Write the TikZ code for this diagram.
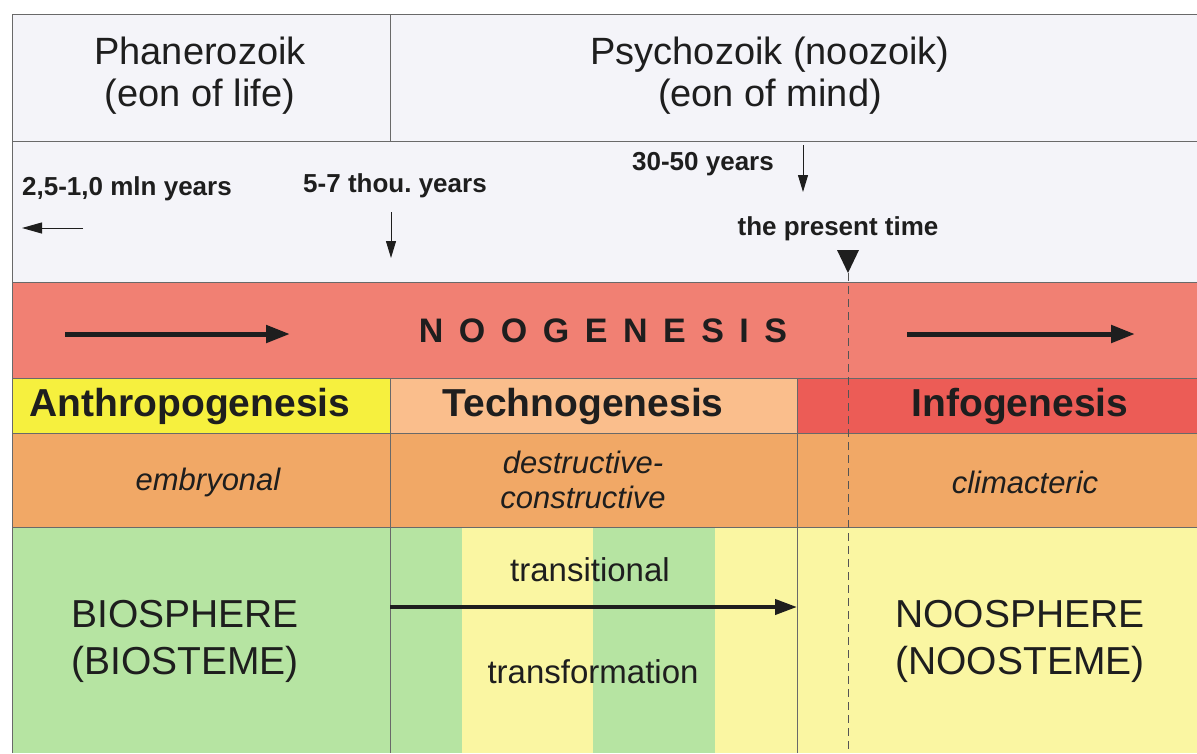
\documentclass[tikz,border=0pt]{standalone}
\usepackage{fontspec}
\setmainfont{Liberation Sans}
\usetikzlibrary{arrows.meta}
\definecolor{paper}{RGB}{244,244,249}
\definecolor{bandred}{RGB}{241,128,115}
\definecolor{anthro}{RGB}{246,240,62}
\definecolor{techno}{RGB}{250,190,140}
\definecolor{info}{RGB}{236,92,86}
\definecolor{phase}{RGB}{241,168,102}
\definecolor{leaf}{RGB}{182,228,162}
\definecolor{straw}{RGB}{250,246,162}
\definecolor{rulegray}{RGB}{105,105,105}
\definecolor{ink}{RGB}{30,30,30}
\newcommand\ltrgap{\hspace{15.5pt}}
\newcommand\fs[2]{\fontsize{#1}{#2}\selectfont}
\begin{document}
\begin{tikzpicture}[x=1pt,y=-1pt,
  rule/.style={draw=rulegray,line width=0.9pt},
  lbl/.style={inner sep=0pt,align=center,text=ink},
  eon/.style={lbl,font=\fs{38}{42}},
  span/.style={lbl,font=\fs{26}{30}\bfseries},
  stage/.style={lbl,font=\fs{39}{44}\bfseries},
  phasetxt/.style={lbl,font=\fs{31}{35}\itshape},
  sphere/.style={lbl,font=\fs{39}{47}},
  flow/.style={lbl,font=\fs{33}{38}},
  bigarrow/.style={draw=ink,line width=5pt,-{Triangle[length=24pt,width=17pt]}},
  midarrow/.style={draw=ink,line width=4pt,-{Triangle[length=22pt,width=15pt]}},
  thinarrow/.style={draw=ink,line width=1pt,-{Triangle[length=17pt,width=10pt]}}]
  \useasboundingbox (0,0) rectangle (1197,753);
  \fill[white] (0,0) rectangle (1197,753);

  \fill[paper]   (12,14)   rectangle (1197,282);
  \fill[bandred] (12,282)  rectangle (1197,378);
  \fill[anthro]  (12,378)  rectangle (390,433);
  \fill[techno]  (390,378) rectangle (797,433);
  \fill[info]    (797,378) rectangle (1197,433);
  \fill[phase]   (12,433)  rectangle (1197,527);
  \fill[leaf]    (12,527)  rectangle (462,753);
  \fill[straw]   (462,527) rectangle (593,753);
  \fill[leaf]    (593,527) rectangle (715,753);
  \fill[straw]   (715,527) rectangle (1197,753);

  \draw[rule] (12,753) -- (12,14) -- (1197,14);
  \foreach \y in {141,282,378,433,527}
    \draw[rule] (12,\y) -- (1197,\y);
  \draw[rule] (390,14)  -- (390,141);
  \draw[rule] (390,378) -- (390,753);
  \draw[rule] (797,378) -- (797,753);

  \node[eon] (phan) at (200,76) {Phanerozoik\\(eon of life)};
  \node[eon] (psych) at (770,76) {Psychozoik (noozoik)\\(eon of mind)};

  \node[span,anchor=west] (mln)  at (22,189)  {2,5-1,0 mln years};
  \node[span]             (thou) at (395,186) {5-7 thou.\ years};
  \node[span]             (dec)  at (703,164) {30-50 years};
  \node[span]             (now)  at (838,229) {the present time};

  \coordinate (mlnA) at (83,228);  \coordinate (mlnB) at (22,228);
  \coordinate (thouA) at (391,212); \coordinate (thouB) at (391,258);
  \coordinate (decA) at (803,145);  \coordinate (decB) at (803,192);
  \draw[thinarrow,-{Triangle[length=20pt,width=11pt]}] (mlnA) -- (mlnB);
  \draw[thinarrow] (thouA) -- (thouB);
  \draw[thinarrow] (decA) -- (decB);

  \fill[ink] (837,250) -- (859,250) -- (848,273) coordinate (nowtip) -- cycle;
  \coordinate (nowend) at (848,753);
  \draw[draw=rulegray!80!black,line width=0.8pt,dash pattern=on 8pt off 5pt] (nowtip) -- (nowend);

  \node[lbl,font=\fs{34}{38}\bfseries] (noo) at (603,331)
    {N\ltrgap O\ltrgap O\ltrgap G\ltrgap E\ltrgap N\ltrgap E\ltrgap S\ltrgap I\ltrgap S};
  \coordinate (nlA) at (65,334);  \coordinate (nlB) at (290,334);
  \coordinate (nrA) at (907,334); \coordinate (nrB) at (1135,334);
  \draw[bigarrow] (nlA) -- (nlB);
  \draw[bigarrow] (nrA) -- (nrB);

  \node[stage] (anth) at (190,406)  {Anthropogenesis};
  \node[stage] (tech) at (583,406)  {Technogenesis};
  \node[stage] (infg) at (1020,406) {Infogenesis};

  \node[phasetxt] (emb)  at (208,482)  {embryonal};
  \node[phasetxt] (dest) at (583,480)  {destructive-\\constructive};
  \node[phasetxt] (clim) at (1025,482) {climacteric};

  \node[sphere] (bio) at (185,641)  {BIOSPHERE\\(BIOSTEME)};
  \node[sphere] (nsp) at (1020,641) {NOOSPHERE\\(NOOSTEME)};
  \node[flow] (trn) at (590,570) {transitional};
  \node[flow] (trf) at (593,672) {transformation};
  \coordinate (trA) at (390,607); \coordinate (trB) at (797,607);
  \draw[midarrow] (trA) -- (trB);
\end{tikzpicture}
\end{document}
